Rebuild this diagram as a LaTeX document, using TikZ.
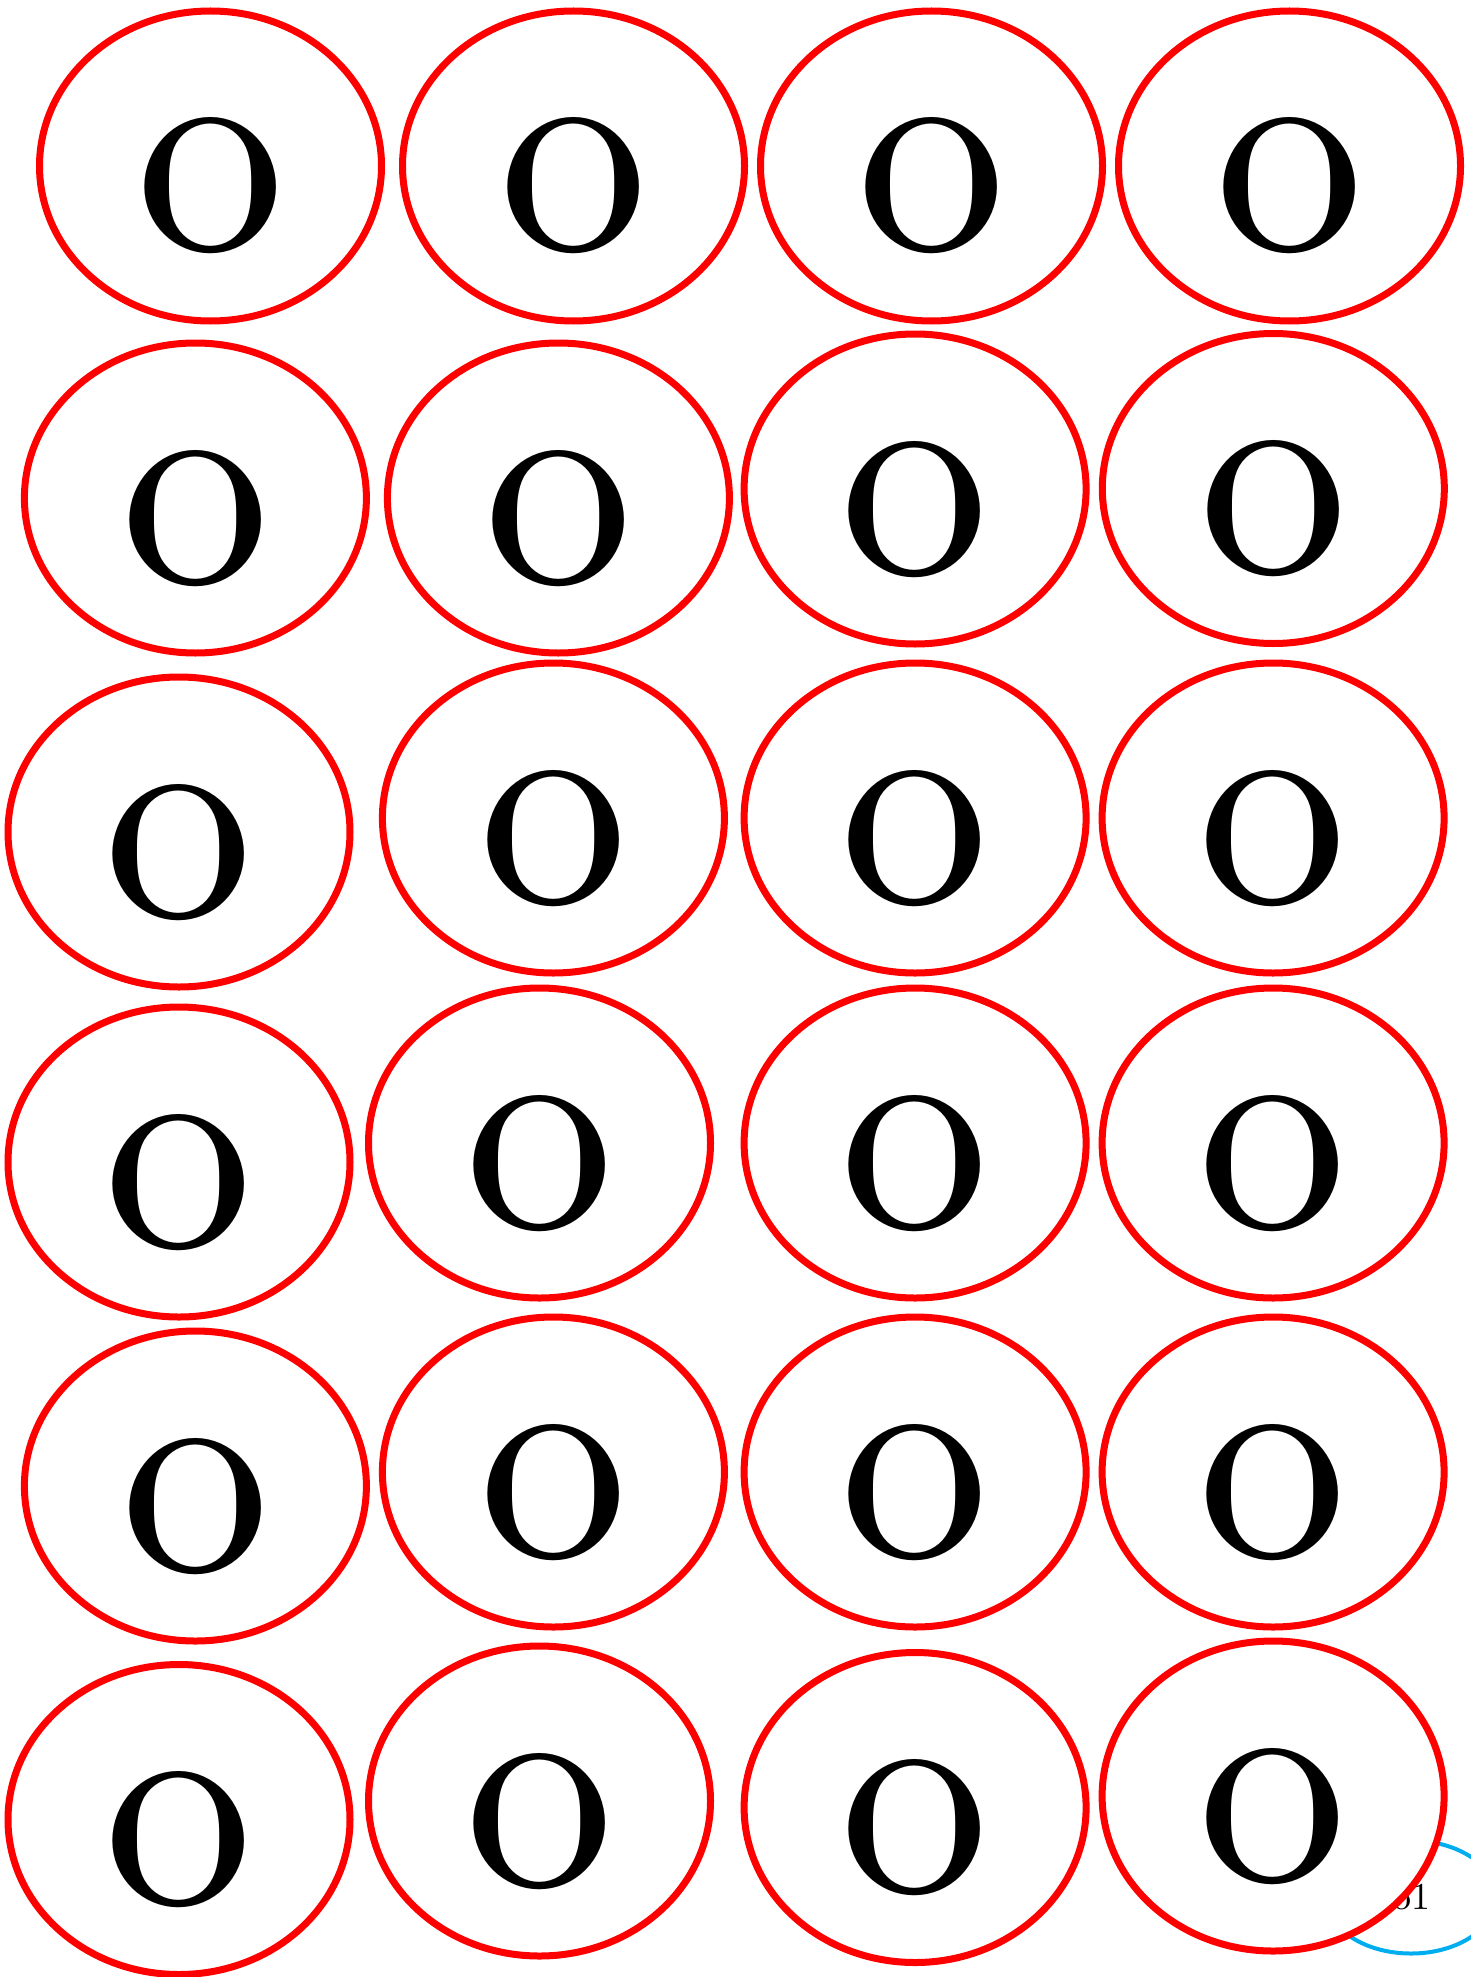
\documentclass[tikz,border=0pt]{standalone}
\usepackage{fontspec}
\newfontfamily\lmten{lmroman10-regular.otf}
\usetikzlibrary{shapes.geometric}
\definecolor{skyb}{RGB}{0,174,239}
\begin{document}
\begin{tikzpicture}[x=1pt,y=-1pt,
  onode/.style={ellipse,draw=red,fill=white,line width=7pt,minimum width=342pt,minimum height=310pt,inner sep=0pt},
  olabel/.style={anchor=base,inner sep=0pt,font=\lmten\fontsize{297}{300}\selectfont},
  bnode/.style={ellipse,draw=skyb,line width=4pt,minimum width=170pt,minimum height=113pt,inner sep=0pt,font=\lmten\fontsize{38}{40}\selectfont}]
\useasboundingbox (0,0) rectangle (1471,1977);
\node[bnode] (b1) at (1411,1897) {o1};
\foreach \cx/\cy/\nm in {
  210.5/166/a1, 573.5/166/a2, 931.5/166/a3, 1289.5/166/a4,
  195.4/498/b1x, 558.4/498/b2, 915.1/489/b3, 1273.3/488.5/b4,
  179/832/c1, 553.4/818/c2, 915.1/818/c3, 1273.1/818/c4,
  179/1162/d1, 539.5/1143/d2, 915.1/1143/d3, 1273.1/1143/d4,
  195.4/1486/e1, 553.4/1472/e2, 915.1/1472/e3, 1273.1/1472/e4,
  179/1819.5/f1, 539.5/1801/f2, 915.1/1807.5/f3, 1273.1/1796/f4}{
  \node[onode] (\nm) at (\cx,\cy) {};
  \node[olabel] (\nm t) at (\cx,\cy+85) {o};
}
\end{tikzpicture}
\end{document}
